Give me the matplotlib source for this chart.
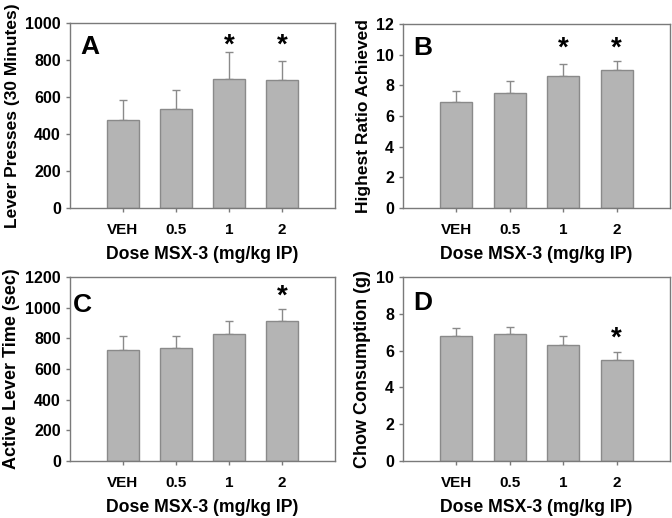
import numpy as np
import matplotlib
matplotlib.use('Agg')
import matplotlib.pyplot as plt

plt.rcParams['font.family'] = ['Liberation Sans', 'DejaVu Sans']
plt.rcParams['font.weight'] = 'bold'

doses = ['VEH', '0.5', '1', '2']

lever_presses = [477, 537, 699, 694]
lever_presses_err = [109, 103, 144, 99]

highest_ratio = [6.9, 7.51, 8.61, 9.0]
highest_ratio_err = [0.74, 0.74, 0.76, 0.59]

active_time = [723, 734, 826, 913]
active_time_err = [89, 78, 87, 79]

chow = [6.81, 6.88, 6.33, 5.47]
chow_err = [0.40, 0.38, 0.44, 0.48]

panels = [
    ('A', lever_presses, lever_presses_err, 'Lever Presses (30 Minutes)',
     1000, 200, [False, False, True, True], 875),
    ('B', highest_ratio, highest_ratio_err, 'Highest Ratio Achieved',
     12, 2, [False, False, True, True], 10.37),
    ('C', active_time, active_time_err, 'Active Lever Time (sec)',
     1200, 200, [False, False, False, True], 1075),
    ('D', chow, chow_err, 'Chow Consumption (g)',
     10, 2, [False, False, False, True], 6.67),
]

# per panel: axes box in px (left, top, right, bottom), letter x/y (axes frac), ylabel size
layout = [
    ((70, 23, 335, 208), 0.04, 0.87, 12.5),
    ((403, 24, 670, 208), 0.04, 0.87, 12.5),
    ((70, 277, 335, 461), 0.01, 0.85, 13),
    ((403, 277, 670, 461), 0.037, 0.86, 13),
]

W, H = 672, 518
fig = plt.figure(figsize=(W / 100, H / 100), dpi=100)

bar_color = '#b4b4b4'
edge_color = '#8a8a8a'
axis_color = '#7a7a7a'

for (letter, vals, errs, ylabel, ymax, ystep, sig, star_y), (box, lx, ly, ysize) in zip(panels, layout):
    l, t, r, b = box
    ax = fig.add_axes([l / W, 1 - b / H, (r - l) / W, (b - t) / H])
    x = np.arange(1, len(doses) + 1)
    ax.bar(x, vals, width=0.6, color=bar_color, edgecolor=edge_color, linewidth=1.0, zorder=2)
    ax.errorbar(x, vals, yerr=[np.zeros(len(errs)), errs], fmt='none',
                ecolor=edge_color, elinewidth=1.0, capsize=3, capthick=1.0, zorder=1)
    for xi, s in zip(x, sig):
        if s:
            ax.text(xi, star_y, '*', ha='center', va='center', fontsize=20, fontweight='bold')
    ax.text(lx, ly, letter, transform=ax.transAxes, fontsize=19, fontweight='bold',
            ha='left', va='center')
    ax.set_xlim(0, 5)
    ax.set_ylim(0, ymax)
    ax.set_yticks(np.arange(0, ymax + ystep / 2, ystep))
    ax.set_xticks(x)
    ax.set_xticklabels(doses)
    for sp in ax.spines.values():
        sp.set_color(axis_color)
        sp.set_linewidth(1.0)
    ax.tick_params(axis='both', colors=axis_color, labelcolor='black',
                   length=3, width=1.0, direction='out')
    ax.tick_params(axis='y', labelsize=11.5)
    ax.tick_params(axis='x', labelsize=11, pad=8)
    for lab in ax.get_xticklabels() + ax.get_yticklabels():
        lab.set_fontweight('bold')
    ax.set_ylabel(ylabel, fontsize=ysize, fontweight='bold', labelpad=4)
    ax.set_xlabel('Dose MSX-3 (mg/kg IP)', fontsize=12.7, fontweight='bold', labelpad=6)

fig.savefig('out.png', dpi=100)
